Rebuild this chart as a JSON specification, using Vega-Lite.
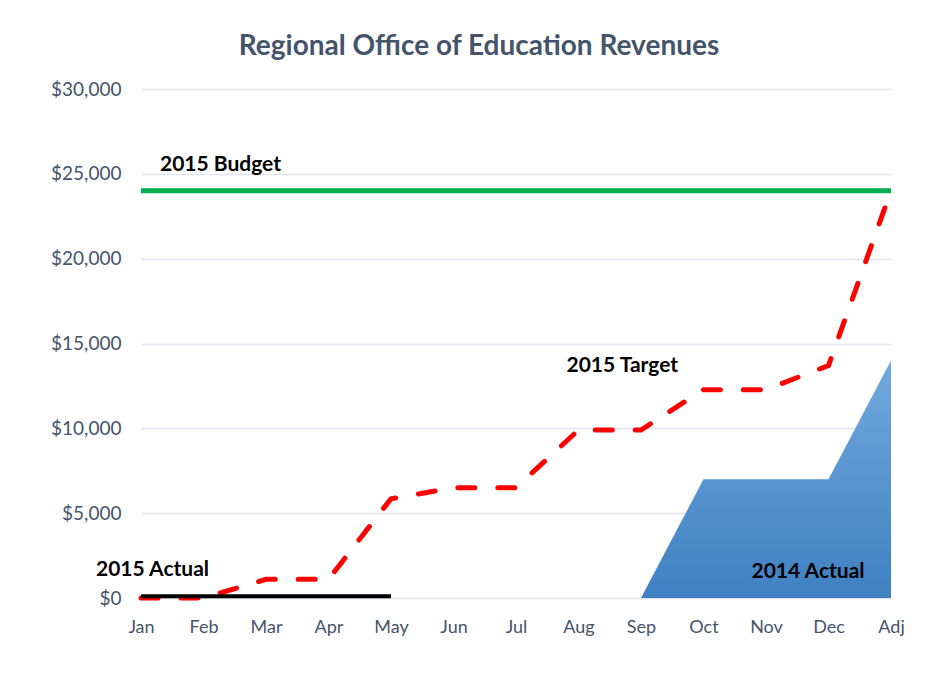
{
  "$schema": "https://vega.github.io/schema/vega-lite/v6.json",
  "autosize": {"type": "none"},
  "width": 750,
  "height": 509,
  "padding": {"left": 141, "top": 89, "right": 57, "bottom": 88},
  "background": "white",
  "title": {
    "text": "Regional Office of Education Revenues",
    "font": "Lato",
    "fontSize": 28,
    "fontWeight": "bold",
    "color": "#44546A",
    "anchor": "middle",
    "dx": -37,
    "offset": 19
  },
  "data": {
    "values": [
      {"month": "Jan", "target": 0, "budget": 24000, "actual2015": 100, "actual2014": null},
      {"month": "Feb", "target": 0, "budget": 24000, "actual2015": 100, "actual2014": null},
      {"month": "Mar", "target": 1100, "budget": 24000, "actual2015": 100, "actual2014": null},
      {"month": "Apr", "target": 1100, "budget": 24000, "actual2015": 100, "actual2014": null},
      {"month": "May", "target": 5850, "budget": 24000, "actual2015": 100, "actual2014": null},
      {"month": "Jun", "target": 6500, "budget": 24000, "actual2015": null, "actual2014": null},
      {"month": "Jul", "target": 6500, "budget": 24000, "actual2015": null, "actual2014": null},
      {"month": "Aug", "target": 9900, "budget": 24000, "actual2015": null, "actual2014": null},
      {"month": "Sep", "target": 9900, "budget": 24000, "actual2015": null, "actual2014": 0},
      {"month": "Oct", "target": 12280, "budget": 24000, "actual2015": null, "actual2014": 7000},
      {"month": "Nov", "target": 12280, "budget": 24000, "actual2015": null, "actual2014": 7000},
      {"month": "Dec", "target": 13700, "budget": 24000, "actual2015": null, "actual2014": 7000},
      {"month": "Adj", "target": 24000, "budget": 24000, "actual2015": null, "actual2014": 14000}
    ]
  },
  "encoding": {
    "x": {
      "field": "month",
      "type": "ordinal",
      "sort": null,
      "scale": {"type": "point", "padding": 0},
      "axis": {
        "title": null,
        "labelAngle": 0,
        "domain": false,
        "ticks": false,
        "grid": false,
        "labelFont": "Lato",
        "labelFontSize": 18,
        "labelColor": "#44546A",
        "labelPadding": 20
      }
    }
  },
  "layer": [
    {
      "mark": {
        "type": "area",
        "fill": {
          "gradient": "linear",
          "x1": 0, "y1": 0, "x2": 0, "y2": 1,
          "stops": [
            {"offset": 0, "color": "#72A9DD"},
            {"offset": 1, "color": "#3E80C2"}
          ]
        }
      },
      "encoding": {
        "y": {
          "field": "actual2014",
          "type": "quantitative",
          "scale": {"domain": [0, 30000]},
          "axis": {
            "title": null,
            "format": "$,.0f",
            "values": [0, 5000, 10000, 15000, 20000, 25000, 30000],
            "domain": false,
            "ticks": false,
            "grid": true,
            "gridColor": "#E1E4EA",
            "gridWidth": 1.3,
            "labelFont": "Lato",
            "labelFontSize": 19,
            "labelColor": "#44546A",
            "labelPadding": 20
          }
        }
      }
    },
    {
      "mark": {"type": "line", "color": "#00B050", "strokeWidth": 5},
      "encoding": {"y": {"field": "budget", "type": "quantitative"}}
    },
    {
      "mark": {"type": "line", "color": "#FF0000", "strokeWidth": 5, "strokeDash": [17, 23], "strokeCap": "round"},
      "encoding": {"y": {"field": "target", "type": "quantitative"}}
    },
    {
      "mark": {"type": "line", "color": "#000000", "strokeWidth": 4},
      "encoding": {"y": {"field": "actual2015", "type": "quantitative"}}
    },
    {
      "data": {"values": [{"label": "2015 Budget", "month": "Jan", "value": 24000}]},
      "mark": {"type": "text", "font": "Lato", "fontSize": 21, "fontWeight": "bold", "color": "#000000", "align": "left", "baseline": "middle", "dx": 19, "dy": -26},
      "encoding": {"x": {"field": "month", "type": "ordinal"}, "y": {"field": "value", "type": "quantitative"}, "text": {"field": "label"}}
    },
    {
      "data": {"values": [{"label": "2015 Target", "month": "Aug", "value": 9900}]},
      "mark": {"type": "text", "font": "Lato", "fontSize": 21, "fontWeight": "bold", "color": "#000000", "align": "left", "baseline": "middle", "dx": -12, "dy": -64},
      "encoding": {"x": {"field": "month", "type": "ordinal"}, "y": {"field": "value", "type": "quantitative"}, "text": {"field": "label"}}
    },
    {
      "data": {"values": [{"label": "2015 Actual", "month": "Jan", "value": 0}]},
      "mark": {"type": "text", "font": "Lato", "fontSize": 21, "fontWeight": "bold", "color": "#000000", "align": "left", "baseline": "middle", "dx": -45, "dy": -28},
      "encoding": {"x": {"field": "month", "type": "ordinal"}, "y": {"field": "value", "type": "quantitative"}, "text": {"field": "label"}}
    },
    {
      "data": {"values": [{"label": "2014 Actual", "month": "Oct", "value": 0}]},
      "mark": {"type": "text", "font": "Lato", "fontSize": 21, "fontWeight": "bold", "color": "#000000", "align": "left", "baseline": "middle", "dx": 48, "dy": -26},
      "encoding": {"x": {"field": "month", "type": "ordinal"}, "y": {"field": "value", "type": "quantitative"}, "text": {"field": "label"}}
    }
  ],
  "config": {"view": {"stroke": null}}
}
